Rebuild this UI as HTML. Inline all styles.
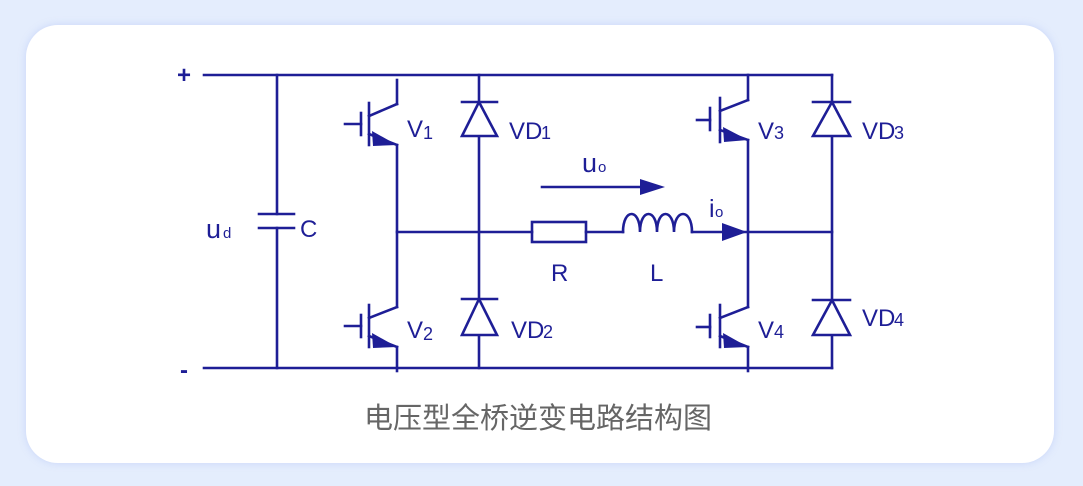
<!DOCTYPE html>
<html><head><meta charset="utf-8"><style>
html,body{margin:0;padding:0;width:1083px;height:486px;background:#e4edfd;overflow:hidden}
.card{position:absolute;left:26px;top:25px;width:1028px;height:438px;background:#fff;border-radius:32px;box-shadow:0 0 8px rgba(150,170,240,0.35)}
svg{position:absolute;left:0;top:0}
text{font-family:"Liberation Sans","DejaVu Sans",sans-serif;fill:#1e1e96}
</style></head><body>
<div class="card"></div>
<svg width="1083" height="486" viewBox="0 0 1083 486">
<g stroke="#1e1e96" stroke-width="2.6" fill="none" stroke-linecap="square">
<line x1="204" y1="75" x2="832" y2="75"/>
<line x1="204" y1="368" x2="832" y2="368"/>
<line x1="277" y1="75" x2="277" y2="214"/>
<line x1="277" y1="228" x2="277" y2="368"/>
<line x1="259" y1="214" x2="294" y2="214"/>
<line x1="259" y1="228" x2="294" y2="228"/>
<line x1="397" y1="80" x2="397" y2="104"/>
<line x1="397" y1="104" x2="369" y2="116"/>
<line x1="369" y1="103" x2="369" y2="145"/>
<line x1="361" y1="113" x2="361" y2="135"/>
<line x1="345" y1="124" x2="361" y2="124"/>
<line x1="369" y1="134" x2="397" y2="145"/>
<line x1="397" y1="145" x2="397" y2="307"/>
<line x1="397" y1="307" x2="369" y2="318"/>
<line x1="369" y1="305" x2="369" y2="347"/>
<line x1="361" y1="315" x2="361" y2="337"/>
<line x1="345" y1="326" x2="361" y2="326"/>
<line x1="369" y1="336" x2="397" y2="347"/>
<line x1="397" y1="347" x2="397" y2="371"/>
<line x1="479" y1="75" x2="479" y2="368"/>
<line x1="462" y1="102" x2="497" y2="102"/>
<polygon points="479,102 462,136 497,136" fill="#fff"/>
<line x1="462" y1="299" x2="497" y2="299"/>
<polygon points="479,299 462,335 497,335" fill="#fff"/>
<line x1="397" y1="232" x2="532" y2="232"/>
<rect x="532" y="222" width="54" height="20"/>
<line x1="586" y1="232" x2="623" y2="232"/>
<path d="M623 232 C623 208 640 208 640 232 C640 208 657 208 657 232 C657 208 674 208 674 232 C674 208 692 208 692 232"/>
<line x1="692" y1="232" x2="832" y2="232"/>
<line x1="748" y1="75" x2="748" y2="100"/>
<line x1="748" y1="100" x2="720" y2="111"/>
<line x1="720" y1="98" x2="720" y2="142"/>
<line x1="710" y1="108" x2="710" y2="130"/>
<line x1="697" y1="120" x2="710" y2="120"/>
<line x1="720" y1="130" x2="748" y2="140"/>
<line x1="748" y1="140" x2="748" y2="307"/>
<line x1="748" y1="307" x2="720" y2="318"/>
<line x1="720" y1="305" x2="720" y2="347"/>
<line x1="710" y1="315" x2="710" y2="337"/>
<line x1="697" y1="327" x2="710" y2="327"/>
<line x1="720" y1="336" x2="748" y2="347"/>
<line x1="748" y1="347" x2="748" y2="371"/>
<line x1="832" y1="75" x2="832" y2="368"/>
<line x1="813" y1="102" x2="850" y2="102"/>
<polygon points="832,102 813,136 850,136" fill="#fff"/>
<line x1="813" y1="300" x2="850" y2="300"/>
<polygon points="832,300 813,335 850,335" fill="#fff"/>
<line x1="542" y1="187" x2="645" y2="187"/>
</g>
<g fill="#1e1e96">
<polygon points="372,131 397,145 373,146"/>
<polygon points="372,333 397,347 373,348"/>
<polygon points="723,127 748,140 724,142"/>
<polygon points="723,333 748,347 724,348"/>
<polygon points="640,179 665,187 640,195"/>
<polygon points="722,223 747,232 722,241"/>
</g>
<g font-size="24">
<text x="177" y="83" font-weight="bold" font-size="24">+</text>
<text x="180" y="378" font-weight="bold" font-size="24">-</text>
<text x="206" y="238" font-size="27">u</text><text x="223" y="238" font-size="15">d</text>
<text x="300" y="237">C</text>
<text x="407" y="137">V</text><text x="423" y="139" font-size="18">1</text>
<text x="407" y="338">V</text><text x="423" y="340" font-size="18">2</text>
<text x="509" y="139">VD</text><text x="541" y="139" font-size="18">1</text>
<text x="511" y="338">VD</text><text x="543" y="338" font-size="18">2</text>
<text x="758" y="139">V</text><text x="774" y="139" font-size="18">3</text>
<text x="758" y="338">V</text><text x="774" y="338" font-size="18">4</text>
<text x="862" y="139">VD</text><text x="894" y="139" font-size="18">3</text>
<text x="862" y="326">VD</text><text x="894" y="326" font-size="18">4</text>
<text x="582" y="172" font-size="27">u</text><text x="598" y="172" font-size="15">o</text>
<text x="709" y="217" font-size="25">i</text><text x="715" y="217" font-size="15">o</text>
<text x="551" y="281">R</text>
<text x="650" y="281">L</text>
</g>
<text x="538" y="428" text-anchor="middle" font-size="29" style="fill:#666;font-family:'Liberation Sans','Noto Sans CJK SC',sans-serif">电压型全桥逆变电路结构图</text>
</svg>
</body></html>
